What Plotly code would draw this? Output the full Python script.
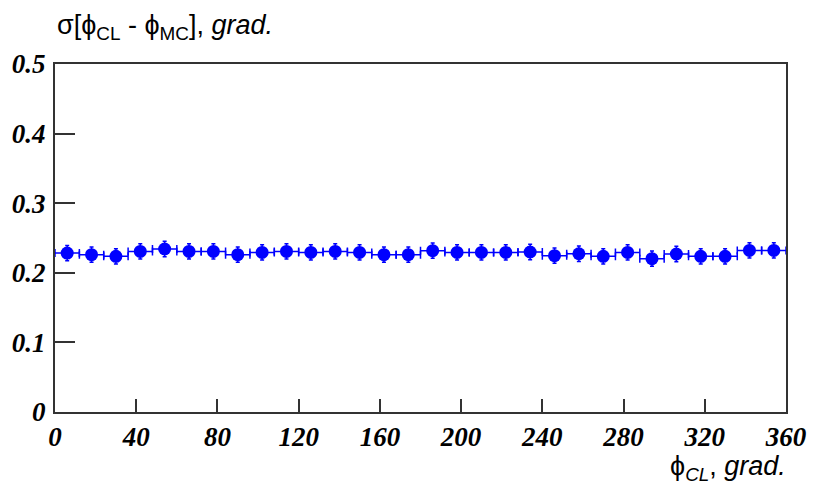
import plotly.graph_objects as go

# Azimuthal resolution per 12-degree bin
phi_centers = [6 + 12 * i for i in range(30)]
sigma = [0.2284, 0.2260, 0.2236, 0.2307, 0.2342, 0.2307, 0.2307, 0.2260, 0.2293, 0.2307,
         0.2293, 0.2307, 0.2293, 0.2260, 0.2260, 0.2318, 0.2293, 0.2293, 0.2293, 0.2299,
         0.2246, 0.2274, 0.2236, 0.2293, 0.2203, 0.2270, 0.2236, 0.2236, 0.2322, 0.2322]
sigma_err = [0.011] * 30
bin_half = [6] * 30

x_ticks = [0, 40, 80, 120, 160, 200, 240, 280, 320, 360]
y_ticks = [0, 0.1, 0.2, 0.3, 0.4, 0.5]
y_tick_text = ["0", "0.1", "0.2", "0.3", "0.4", "0.5"]

BLUE = "#0000ff"
tick_font = dict(family="Liberation Serif, Times New Roman, serif", size=27,
                 color="black", weight="bold", style="italic")
label_font = dict(family="Liberation Sans, Arial, sans-serif", size=27, color="black")

fig = go.Figure()
fig.add_trace(go.Scatter(
    x=phi_centers, y=sigma, mode="markers",
    marker=dict(symbol="circle", size=13, color=BLUE),
    error_y=dict(type="data", array=sigma_err, color=BLUE, thickness=1.5, width=2),
    error_x=dict(type="data", array=bin_half, color=BLUE, thickness=1.5, width=4),
    showlegend=False,
))

fig.update_layout(
    width=819, height=495,
    margin=dict(l=55, r=22, t=64, b=83),
    paper_bgcolor="white", plot_bgcolor="white",
    xaxis=dict(range=[0, 360], tickvals=x_ticks, ticks="inside", ticklen=13,
               tickwidth=1.5, tickcolor="#333", showline=True, linecolor="#333",
               linewidth=2, mirror=True, showgrid=False, zeroline=False,
               tickfont=tick_font, ticklabelstandoff=0),
    yaxis=dict(range=[0, 0.5], tickvals=y_ticks, ticktext=y_tick_text, ticks="inside",
               ticklen=20, tickwidth=1.5, tickcolor="#333", showline=True,
               linecolor="#333", linewidth=2, mirror=True, showgrid=False,
               zeroline=False, tickfont=tick_font, ticklabelstandoff=2),
    annotations=[
        dict(text="σ[ϕ<sub>CL</sub> - ϕ<sub>MC</sub>], <i>grad.</i>",
             xref="paper", yref="paper", x=0, y=1, xanchor="left", yanchor="bottom",
             yshift=18, showarrow=False, font=label_font),
        dict(text="ϕ<sub><i>CL</i></sub>, <i>grad.</i>",
             xref="paper", yref="paper", x=1, y=0, xanchor="right", yanchor="top",
             yshift=-37, xshift=2, showarrow=False, font=label_font),
    ],
)

fig.write_html("out.html")
